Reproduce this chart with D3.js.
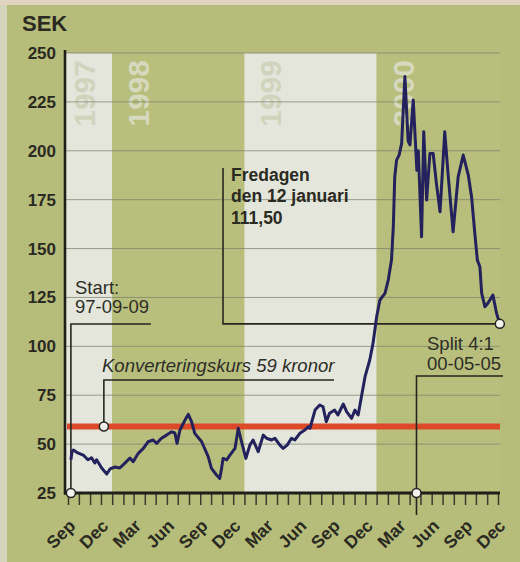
<!DOCTYPE html>
<html>
<head>
<meta charset="utf-8">
<script src="https://cdn.jsdelivr.net/npm/d3@7"></script>
<style>
  body { margin: 0; background: #b6bd7a; }
  svg { display: block; font-family: "Liberation Sans", Arial, sans-serif; }
</style>
</head>
<body>
<div id="chart"></div>
<script>
// kurs i SEK
var dates = ["1997-09-09","1997-09-12","1997-09-16","1997-09-28","1997-10-13","1997-10-26","1997-11-05","1997-11-14","1997-11-19","1997-12-03",
  "1997-12-17","1997-12-26","1998-01-09","1998-01-22","1998-02-05","1998-02-19","1998-02-28","1998-03-14","1998-03-28","1998-04-10",
  "1998-04-24","1998-05-04","1998-05-17","1998-05-31","1998-06-14","1998-06-23","1998-06-29","1998-07-07","1998-07-21","1998-07-30",
  "1998-08-08","1998-08-17","1998-09-05","1998-09-23","1998-10-02","1998-10-16","1998-10-25","1998-10-30","1998-11-03","1998-11-13",
  "1998-11-22","1998-12-06","1998-12-15","1998-12-24","1999-01-05","1999-01-16","1999-01-25","1999-02-08","1999-02-22","1999-03-03",
  "1999-03-17","1999-03-26","1999-04-09","1999-04-18","1999-04-29","1999-05-11","1999-05-20","1999-06-03","1999-06-17","1999-06-26",
  "1999-07-01","1999-07-15","1999-07-28","1999-08-06","1999-08-15","1999-08-24","1999-09-07","1999-09-16","1999-10-01","1999-10-10",
  "1999-10-24","1999-11-02","1999-11-11","1999-11-20","1999-11-30","1999-12-13","1999-12-22","2000-01-01","2000-01-10","2000-01-24",
  "2000-02-02","2000-02-11","2000-02-16","2000-02-20","2000-02-25","2000-03-03","2000-03-10","2000-03-19","2000-03-28","2000-04-02",
  "2000-04-11","2000-04-21","2000-04-25","2000-05-04","2000-05-10","2000-05-18","2000-05-27","2000-06-05","2000-06-14","2000-06-24",
  "2000-07-07","2000-07-16","2000-07-30","2000-08-13","2000-08-27","2000-09-10","2000-09-19","2000-09-28","2000-10-05","2000-10-12",
  "2000-10-17","2000-10-26","2000-11-03","2000-11-17","2000-11-27","2000-12-06"];
var prices = [42,46,47,45.5,44.4,42,43,40.3,42,37.8,
  34.7,37.3,38.3,37.8,40.3,42.9,41,45.3,47.8,51.2,
  52.1,50.4,53,54.6,56.3,55.7,50.4,57.2,62.3,65.2,
  61.5,55.5,51.2,43.6,37.6,34.2,32.5,37.6,42.7,41.9,
  44.4,47.8,58.1,51.2,42.7,49.5,52.1,46.1,54.6,53,
  52.1,53,49.5,47.8,49.5,53,52.1,55.5,57.2,58.9,
  58.1,67.4,70,69.1,61.5,65.8,67.4,64.9,70.5,66.6,
  63.2,67.4,64.9,74.2,84.5,93,101.5,115.1,123.7,127.1,
  133.9,144.1,161.1,186.7,195.2,197.8,203.8,238,205,203,
  226,190,200,156,209.7,174.8,198.6,198.6,183.3,168.8,
  209.7,188.4,158.6,186.7,197.8,187.6,176.5,157.8,144.1,140.7,
  127.1,120.2,122,126.2,116.9,111.5];

var yTicks = [25,50,75,100,125,150,175,200,225,250];
var years = ["1997","1998","1999","2000"];
var quarterLabels = ["Mar","Jun","Sep","Dec"];
var conversionRate = 59;
var startDate = "1997-09-09";
var conversionDate = "1997-12-09";
var splitDate = "2000-04-20";

var parseTime = d3.timeParse("%Y-%m-%d");
var W = 520, H = 562;
var ink = "#2a2a22";

var data = dates.map(function(d, i){
  return { date: parseTime(d), price: prices[i] };
});

var x = d3.scaleTime()
  .domain([parseTime("1997-09-01"), parseTime("2000-12-01")])
  .range([68, 498]);
var y = d3.scaleLinear()
  .domain([25, 250])
  .range([493, 53]);

var left = 65, right = 500;

var svg = d3.select("#chart").append("svg")
  .attr("width", W)
  .attr("height", H);

// bakgrund
svg.append("rect").attr("width", W).attr("height", H).attr("fill", "#b6bd7a");
svg.append("rect").attr("width", 7).attr("height", H).attr("fill", "#d3d6bb");
svg.append("rect").attr("width", W).attr("height", 5).attr("fill", "#e0d3c0");

// årsband
years.forEach(function(yr, i){
  var x0 = Math.max(x(parseTime(yr + "-01-01")), left + 1);
  var x1 = Math.min(x(parseTime((+yr + 1) + "-01-01")), right);
  svg.append("rect")
    .attr("x", x0)
    .attr("y", y(250))
    .attr("width", x1 - x0)
    .attr("height", y(25) - y(250))
    .attr("fill", i % 2 === 0 ? "#e4e6dc" : "#b8bf7c");
  svg.append("text")
    .attr("transform", "translate(" + (x0 + (i === 0 ? 29 : 37)) + ",60) rotate(-90)")
    .style("text-anchor", "end")
    .style("font-size", "30px")
    .style("font-weight", "bold")
    .attr("fill", i % 2 === 0 ? "#d0d4bd" : "#d5d9bd")
    .text(yr);
});

// stödlinjer
svg.append("g").selectAll("line")
  .data(yTicks.slice(1))
  .enter().append("line")
    .attr("x1", left).attr("x2", right)
    .attr("y1", function(d){ return y(d); })
    .attr("y2", function(d){ return y(d); })
    .attr("stroke", "#7e836c")
    .attr("stroke-opacity", 0.75)
    .attr("stroke-width", 1);

// y-axelns siffror
svg.append("g")
  .attr("transform", "translate(" + left + ",0)")
  .call(d3.axisLeft(y).tickValues(yTicks).tickSize(0).tickPadding(9))
  .call(function(g){ g.select(".domain").remove(); })
  .selectAll("text")
    .style("font-size", "17px")
    .style("font-weight", "bold")
    .style("font-family", "Liberation Sans, Arial, sans-serif")
    .attr("fill", ink);

svg.append("text")
  .attr("x", 22).attr("y", 31)
  .style("font-size", "22px")
  .style("font-weight", "bold")
  .attr("fill", ink)
  .text("SEK");

// konverteringskurs
svg.append("line")
  .attr("x1", left + 2).attr("x2", right)
  .attr("y1", y(conversionRate)).attr("y2", y(conversionRate))
  .attr("stroke", "#dc4a2a")
  .attr("stroke-width", 6);

// anteckningslinjer
var last = data[data.length - 1];
var guide = svg.append("g")
  .attr("fill", "none")
  .attr("stroke", "#26261f")
  .attr("stroke-width", 1.6);
var sx = x(parseTime(startDate));
guide.append("path").attr("d", "M" + (sx + 80) + "," + 324 + "H" + sx + "V" + y(25));
var cx = x(parseTime(conversionDate));
guide.append("path").attr("d", "M334,380H" + cx + "V" + y(conversionRate));
var lx = x(last.date);
guide.append("path").attr("d", "M223,168V" + y(last.price) + "H" + lx);
var px = x(parseTime(splitDate));
guide.append("path").attr("d", "M503,376H" + px + "V515");

// kurslinje
var priceLine = d3.line()
  .x(function(d){ return x(d.date); })
  .y(function(d){ return y(d.price); });
svg.append("path")
  .attr("d", priceLine(data))
  .attr("fill", "none")
  .attr("stroke", "#24225c")
  .attr("stroke-width", 3)
  .attr("stroke-linejoin", "round");

// x-axel
var months = d3.timeMonth.range(parseTime("1997-09-01"), parseTime("2000-12-02"));
var xAxis = svg.append("g")
  .attr("transform", "translate(0," + y(25) + ")")
  .call(d3.axisBottom(x)
    .tickValues(months)
    .tickSize(12)
    .tickFormat(function(d){
      return d.getMonth() % 3 === 2 ? quarterLabels[(d.getMonth() - 2) / 3] : "";
    }));
xAxis.select(".domain").remove();
xAxis.selectAll(".tick line")
  .attr("stroke", "#3a3a30")
  .attr("stroke-width", 1.5);
xAxis.selectAll("text")
  .attr("y", 0).attr("dy", 0)
  .attr("transform", "translate(8,34) rotate(-45)")
  .style("text-anchor", "end")
  .style("font-size", "17.5px")
  .style("font-weight", "bold")
  .style("font-family", "Liberation Sans, Arial, sans-serif")
  .attr("fill", ink);

svg.append("line")
  .attr("x1", left).attr("x2", left)
  .attr("y1", 50).attr("y2", y(25) + 1.5)
  .attr("stroke", "#1f1f1a").attr("stroke-width", 2.6);
svg.append("line")
  .attr("x1", left - 1).attr("x2", right)
  .attr("y1", y(25)).attr("y2", y(25))
  .attr("stroke", "#1f1f1a").attr("stroke-width", 3);

// markeringar
var marks = [[sx, y(25)], [cx, y(conversionRate)], [lx, y(last.price)], [px, y(25)]];
svg.append("g").selectAll("circle")
  .data(marks)
  .enter().append("circle")
    .attr("cx", function(d){ return d[0]; })
    .attr("cy", function(d){ return d[1]; })
    .attr("r", 4.5)
    .attr("fill", "#f3f3ec")
    .attr("stroke", "#222")
    .attr("stroke-width", 1.5);

// texter
var note = svg.append("g")
  .style("font-size", "18.5px")
  .attr("fill", "#2e2e28");
note.append("text").attr("x", 75).attr("y", 294).text("Start:");
note.append("text").attr("x", 75).attr("y", 313).text("97-09-09");
note.append("text").attr("x", 102).attr("y", 372)
  .style("font-style", "italic")
  .text("Konverteringskurs 59 kronor");
note.append("text").attr("x", 427).attr("y", 350).text("Split 4:1");
note.append("text").attr("x", 427).attr("y", 370).text("00-05-05");

var fri = svg.append("g")
  .style("font-size", "17.5px")
  .style("font-weight", "bold")
  .attr("fill", ink);
fri.append("text").attr("x", 231).attr("y", 181).text("Fredagen");
fri.append("text").attr("x", 231).attr("y", 202).text("den 12 januari");
fri.append("text").attr("x", 231).attr("y", 224).text("111,50");
</script>
</body>
</html>
